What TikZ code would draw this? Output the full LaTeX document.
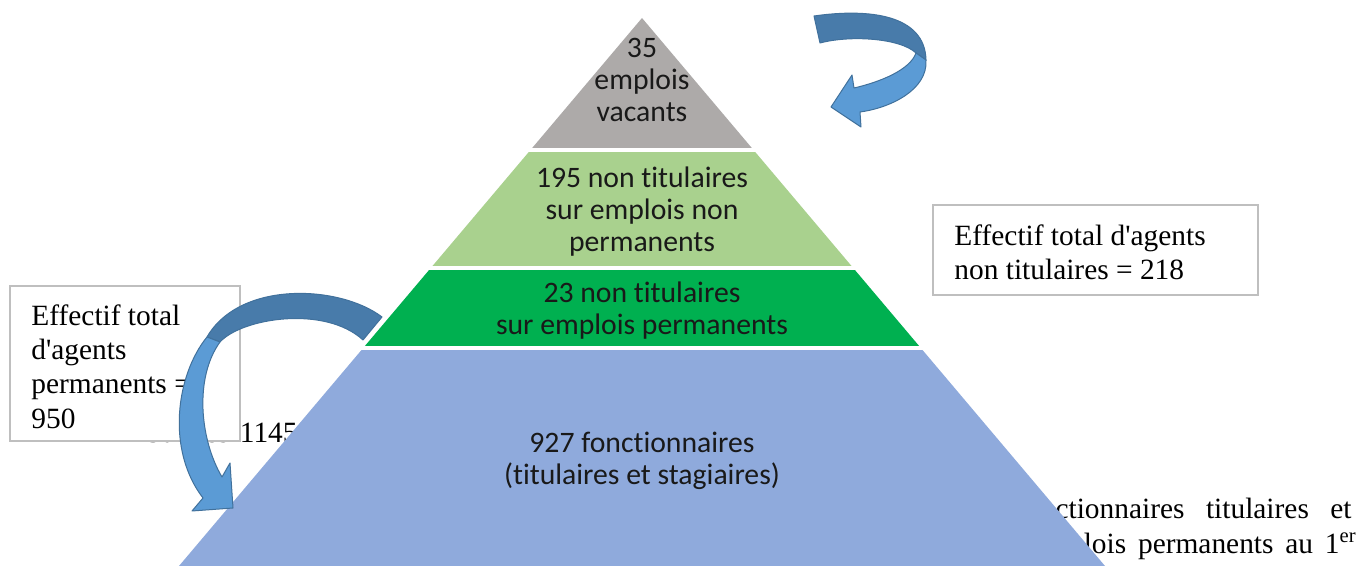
\documentclass[tikz,border=0pt]{standalone}
\usepackage{fontspec}
\setmainfont{Liberation Serif}
\newfontfamily\calibri[Ligatures=NoCommon]{Carlito}
\usetikzlibrary{calc}

\definecolor{vacantgray}{RGB}{173,170,169}
\definecolor{lightgreen}{RGB}{169,209,142}
\definecolor{darkgreen}{RGB}{0,176,80}
\definecolor{paleblue}{RGB}{143,170,220}
\definecolor{arrowback}{RGB}{72,123,170}
\definecolor{arrowfront}{RGB}{91,155,213}
\definecolor{arrowline}{RGB}{65,113,156}
\definecolor{boxline}{RGB}{191,191,191}

\tikzset{
  layertext/.style={font=\calibri\fontsize{14.85}{16}\selectfont, align=center, text=black!90},
  boxtext/.style={font=\fontsize{14.7}{17.2}\selectfont, align=left, anchor=north west, inner sep=0pt},
  pagetext/.style={font=\fontsize{14.7}{17.2}\selectfont, inner sep=0pt},
  countbox/.style={draw=boxline, line width=0.75pt, fill=white},
  ribbonback/.style={fill=arrowback, draw=arrowline, line width=0.5pt, line join=round},
  ribbonfront/.style={fill=arrowfront, draw=arrowline, line width=0.5pt, line join=round}
}

\begin{document}
\begin{tikzpicture}[x=0.5pt, y=-0.5pt]
  \useasboundingbox (0,0) rectangle (1360,566);

  % page text behind the figure
  \node[pagetext, anchor=base west] (surles) at (145,443) {Sur\hspace{5.25pt}les\hspace{5.25pt}1145};
  \node[pagetext, anchor=base east] (lineone) at (1352,518) {fonctionnaires\hspace{10.75pt}titulaires\hspace{10.75pt}et};
  \node[pagetext, anchor=base east] (linetwo) at (1357,553) {emplois\hspace{5.9pt}permanents\hspace{5.9pt}au\hspace{5.9pt}1\textsuperscript{er}};

  % box of the permanent agents
  \draw[countbox] (10,286) rectangle (240,441);
  \node[boxtext] (permtext) at (31,304) {Effectif total\\d\textquotesingle agents\\permanents =\\950};

  % box of the non titulaires
  \draw[countbox] (933,205) rectangle (1258,295);
  \node[boxtext] (nontittext) at (954,224) {Effectif total d\textquotesingle agents\\non titulaires = 218};

  % the pyramid
  \coordinate (apex) at (642,18);
  \coordinate (bl) at (179,566);
  \coordinate (br) at (1105,566);
  \begin{scope}
    \clip (apex) -- (bl) -- (br) -- cycle;
    \fill[vacantgray] (0,0) rectangle (1360,148);
    \fill[lightgreen] (0,152) rectangle (1360,266);
    \fill[darkgreen] (0,270) rectangle (1360,346);
    \fill[paleblue] (0,350) rectangle (1360,566);
  \end{scope}

  \node[layertext] (vacant) at (642,80) {35\\emplois\\vacants};
  \node[layertext] (nonperm) at (642,212) {195 non titulaires\\sur emplois non\\permanents};
  \node[layertext] (perm) at (642,311) {23 non titulaires\\sur emplois permanents};
  \node[layertext] (fonct) at (642,461) {927 fonctionnaires\\(titulaires et stagiaires)};

  % arrow top right
  \draw[ribbonback] (814,16) .. controls (870,8) and (925,15) .. (926,60)
    -- (916,53) .. controls (900,38) and (850,35) .. (820,43) -- cycle;
  \draw[ribbonfront] (926,60) .. controls (928,90) and (890,108) .. (860,112)
    -- (861,127) -- (831,107) -- (852,75) -- (854,88)
    .. controls (880,82) and (910,70) .. (916,53) -- cycle;

  % arrow left
  \draw[ribbonback] (382,317) .. controls (340,285) and (240,280) .. (207,337)
    -- (220,342) .. controls (242,318) and (325,305) .. (363,340) -- cycle;
  \draw[ribbonfront] (207,337) .. controls (176,375) and (166,450) .. (203,498)
    -- (192,511) -- (233,508) -- (230,463) -- (222,477)
    .. controls (200,440) and (194,378) .. (220,342) -- cycle;
\end{tikzpicture}
\end{document}
